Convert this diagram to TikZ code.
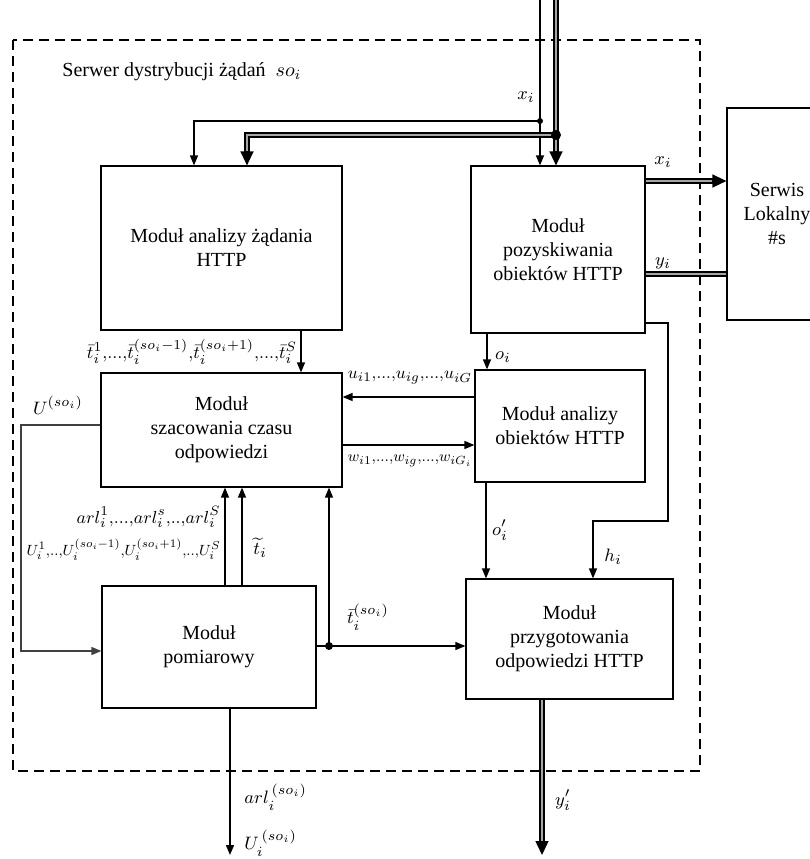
\documentclass[tikz,border=0pt]{standalone}
\usepackage{fontspec}
\usepackage{graphicx}
\setmainfont{Liberation Serif}
\usetikzlibrary{arrows.meta,calc}
\newcommand{\cdd}{{,}{.}{.}{.}{,}}
\newcommand{\cd}{{,}{.}{.}{,}}
\newcommand{\cm}{{,}}
\begin{document}
\begin{tikzpicture}[x=0.5pt,y=-0.5pt,
  modbox/.style={draw, line width=0.6pt, align=center, font=\fontsize{10}{12}\selectfont, inner sep=0pt},
  ln/.style={line width=0.7pt},
  arr/.style={ln, -{Triangle[length=5pt,width=4pt]}},
  dbl/.style={double=gray!70, double distance=1.1pt, line width=0.75pt},
  bigtip/.style={-{Triangle[length=7pt,width=6.5pt]}, line width=0.7pt},
  lab/.style={font=\fontsize{9.5}{11}\selectfont, inner sep=0pt},
  jdot/.style={circle, fill, inner sep=0pt, minimum size=#1},
  frame/.style={line width=1.2pt, dash pattern=on 5pt off 3pt},
]
\useasboundingbox (0,0) rectangle (810,859);

% frame
\draw[frame] (13,40) rectangle (700,771);
\node[anchor=west, font=\fontsize{10}{12}\selectfont, inner sep=0pt] (title) at (62,72) {Serwer dystrybucji żądań\ \ $so_i$};

% boxes
\node[modbox, minimum width=120.5pt, minimum height=82pt] (A) at (221.5,248) {Moduł analizy żądania\\HTTP};
\node[modbox, minimum width=87pt, minimum height=83.5pt] (B) at (558,249.5) {Moduł\\pozyskiwania\\obiektów HTTP};
\node[modbox, minimum width=50pt, minimum height=106pt] (S) at (777,214) {Serwis\\Lokalny\\\#s};
\node[modbox, minimum width=120.5pt, minimum height=57pt] (C) at (221.5,430) {Moduł\\szacowania czasu\\odpowiedzi};
\node[modbox, minimum width=85pt, minimum height=56pt] (D) at (560,426) {Moduł analizy\\obiektów HTTP};
\node[modbox, minimum width=107pt, minimum height=61pt] (E) at (209,647) {Moduł\\pomiarowy};
\node[modbox, minimum width=103.5pt, minimum height=60pt] (F) at (569.5,639) {Moduł\\przygotowania\\odpowiedzi HTTP};

% incoming lines
\coordinate (in1) at (540,0);
\coordinate (in2) at (556,0);
\coordinate (j1) at (540,121);
\coordinate (j2) at (556,135);
\coordinate (xa1) at (194,0);
\coordinate (xa2) at (247,0);
\draw[arr] (in1) -- (in1 |- B.north);
\draw[dbl, shorten >=6pt] (in2) -- (in2 |- B.north);
\draw[bigtip] ($(in2 |- B.north)+(0,-14)$) -- (in2 |- B.north);
\draw[arr] (j1) -| (xa1 |- A.north);
\draw[dbl, shorten >=6pt] (j2) -| (xa2 |- A.north);
\draw[bigtip] ($(xa2 |- A.north)+(0,-14)$) -- (xa2 |- A.north);
\node[jdot=3pt] (d1) at (j1) {};
\node[jdot=5pt] (d2) at (j2) {};
\node[lab] (lx1) at (526,97) {$x_i$};

% B <-> S
\coordinate (yx) at (0,181);
\coordinate (yy) at (0,274);
\draw[dbl, shorten >=6pt] (B.east |- yx) -- (S.west |- yx);
\draw[bigtip] ($(S.west |- yx)+(-14,0)$) -- (S.west |- yx);
\draw[dbl] (S.west |- yy) -- (B.east |- yy);
\node[lab] (lx2) at (663,162) {$x_i$};
\node[lab] (ly) at (663,263) {$y_i$};

% A -> C
\coordinate (xac) at (301,0);
\draw[arr] (xac |- A.south) -- (xac |- C.north);
\node[lab] (ltb) at (192,352) {\resizebox{105pt}{!}{$\bar t_i^{1}\cdd\bar t_i^{(so_i-1)}\cm\bar t_i^{(so_i+1)}\cdd\bar t_i^{S}$}};

% C <-> D
\coordinate (yu) at (0,397);
\coordinate (yw) at (0,445);
\draw[arr] (D.west |- yu) -- (C.east |- yu);
\draw[arr] (C.east |- yw) -- (D.west |- yw);
\node[lab] (lu) at (410,378) {\resizebox{62pt}{!}{$u_{i1}\cdd u_{ig}\cdd u_{iG}$}};
\node[lab] (lw) at (410,461) {\resizebox{62pt}{!}{$w_{i1}\cdd w_{ig}\cdd w_{iG_i}$}};

% B -> D -> F
\coordinate (xo) at (487,0);
\coordinate (xo2) at (486,0);
\draw[arr] (xo |- B.south) -- (xo |- D.north);
\node[lab] (lo) at (503,357) {$o_i$};
\draw[arr] (xo2 |- D.south) -- (xo2 |- F.north);
\node[lab] (lo2) at (500,530) {$o'_i$};

% B -> F (h_i)
\coordinate (h1) at (668,323);
\coordinate (h2) at (593,521);
\draw[arr] (B.east |- h1) -- (h1) -- (h1 |- h2) -- (h2) -- (h2 |- F.north);
\node[lab] (lh) at (613,557) {$h_i$};

% C -> E (U)
\coordinate (u1) at (21,425);
\coordinate (u2) at (21,651);
\draw[arr, black!75] (C.west |- u1) -- (u1) -- (u2) -- (E.west |- u2);
\node[lab] (lU) at (58,405) {$U^{(so_i)}$};

% E -> C
\coordinate (xe1) at (225,0);
\coordinate (xe2) at (242,0);
\draw[arr] (xe1 |- E.north) -- (xe1 |- C.south);
\draw[arr] (xe2 |- E.north) -- (xe2 |- C.south);
\node[lab, anchor=east] (larl) at (221,517) {\resizebox{72pt}{!}{$arl_i^1\cdd arl_i^s\cd arl_i^S$}};
\node[lab, anchor=east] (lUs) at (221,550) {\resizebox{97pt}{!}{$U_i^1\cd U_i^{(so_i-1)}\cm U_i^{(so_i+1)}\cd U_i^S$}};
\node[lab] (ltt) at (260,548) {$\widetilde{t}_i$};

% E -> dot -> C, F
\coordinate (jd) at (329,646);
\draw[ln] (E.east |- jd) -- (jd);
\draw[arr] (jd) -- (jd |- C.south);
\draw[arr] (jd) -- (F.west |- jd);
\node[jdot=4pt] (d3) at (jd) {};
\node[lab] (ltso) at (368,617) {$\bar t_i^{(so_i)}$};

% outputs
\coordinate (xd) at (230,855);
\draw[arr] (xd |- E.south) -- (xd);
\node[lab, anchor=west] (larlo) at (244,797) {$arl_i^{\,(so_i)}$};
\node[lab, anchor=west] (lUo) at (244,843) {$U_i^{\,(so_i)}$};
\coordinate (xf) at (542,855);
\draw[dbl, shorten >=6pt] (xf |- F.south) -- (xf);
\draw[bigtip] ($(xf)+(0,-14)$) -- (xf);
\node[lab] (lyo) at (563,800) {$y'_i$};
\end{tikzpicture}
\end{document}
